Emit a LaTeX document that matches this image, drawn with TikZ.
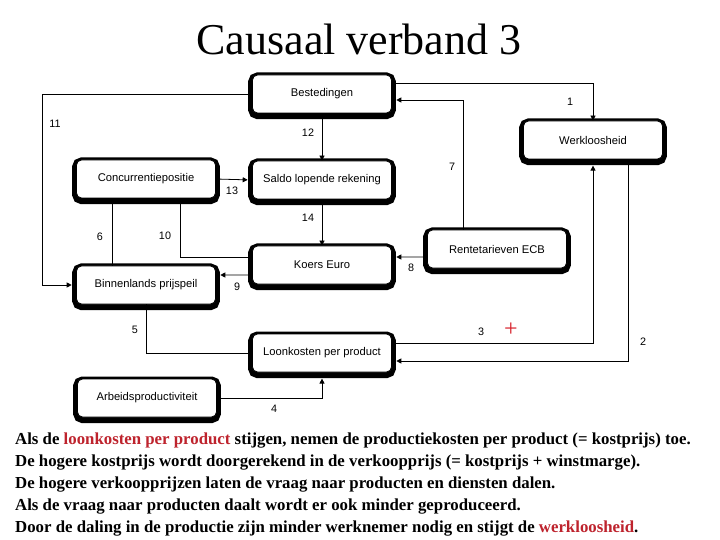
\documentclass[tikz,border=0pt]{standalone}
\usepackage{fontspec}
\setmainfont{Liberation Serif}
\newfontfamily\arialfont{Liberation Sans}
\usepackage{xcolor}
\usepackage{tikz}
\usetikzlibrary{arrows.meta, positioning, shadows}
\definecolor{keyred}{RGB}{190, 35, 45}
\definecolor{plusred}{RGB}{215, 30, 40}

\begin{document}
\begin{tikzpicture}[x=1bp, y=-1bp,
  box/.style={rectangle, rounded corners=5bp, draw=black, line width=0.8bp,
    fill=white, font=\arialfont\fontsize{11.2bp}{13bp}\selectfont,
    minimum width=139bp, minimum height=38bp, inner sep=2bp,
    general shadow={fill=black, draw=black, line width=8.6bp, shadow yshift=-1.8bp}},
  num/.style={font=\arialfont\fontsize{10.8bp}{12bp}\selectfont, inner sep=0pt},
  txt/.style={anchor=base west, inner sep=0pt,
    font=\fontsize{16.8bp}{22bp}\selectfont\bfseries},
  arr/.style={-{Triangle[length=5bp, width=5bp]}, line width=0.8bp},
  lin/.style={line width=0.8bp}
]
\useasboundingbox (0,0) rectangle (720,540);
\fill[white] (0,0) rectangle (720,540);
% Title
\node[anchor=base, inner sep=0pt, font=\fontsize{44bp}{48bp}\selectfont]
  at (359,55) (title) {Causaal verband 3};
% Boxes
\node[box] at (322, 94) (best)   {Bestedingen};
\node[box] at (593,140) (werk)   {Werkloosheid};
\node[box] at (146,179) (conc)   {Concurrentiepositie};
\node[box] at (322,180) (saldo)  {Saldo lopende rekening};
\node[box] at (497,249) (rente)  {Rentetarieven ECB};
\node[box] at (322,265) (koers)  {Koers Euro};
\node[box] at (146,285) (binnen) {Binnenlands prijspeil};
\node[box] at (322,353) (loon)   {Loonkosten per product};
\node[box] at (147,398) (arbeid) {Arbeidsproductiviteit};
% Connectors
\draw[arr] ([yshift=11bp]best.east) -| (werk.north);
\draw[arr, shorten >=4.4bp] ([xshift=35bp]werk.south) |- ([yshift=-8bp]loon.east);
\draw[arr, shorten >=6.2bp] ([yshift=10bp]loon.east) -| (werk.south);
\draw[arr, shorten >=6.2bp] (arbeid.east) -| (loon.south);
\draw[lin] (binnen.south) |- (loon.west);
\draw[lin] ([xshift=-34bp]conc.south) -- ([xshift=-34bp]binnen.north);
\draw[arr, shorten >=4.4bp] ([xshift=-34bp]rente.north) |- ([yshift=-6bp]best.east);
\draw[arr, shorten >=4.4bp] ([yshift=-8bp]rente.west) -- ([yshift=8bp]koers.east);
\draw[arr, shorten >=4.4bp] ([yshift=-10bp]koers.west) -- ([yshift=10bp]binnen.east);
\draw[lin] ([yshift=8bp]koers.west) -| ([xshift=34bp]conc.south);
\draw[arr, shorten >=4.4bp] (best.west) -| ([xshift=-34bp]binnen.west) -- (binnen.west);
\draw[arr] (best.south) -- (saldo.north);
\draw[arr, shorten >=4.4bp] (conc.east) -- (saldo.west);
\draw[arr] (saldo.south) -- (koers.north);
% Numbers
\node[num] at (570,102) (n1)  {1};
\node[num] at (643,342) (n2)  {2};
\node[num] at (481,332) (n3)  {3};
\node[num] at (274,409) (n4)  {4};
\node[num] at (135,330) (n5)  {5};
\node[num] at (100,237) (n6)  {6};
\node[num] at (452,167) (n7)  {7};
\node[num] at (411,268) (n8)  {8};
\node[num] at (237,287) (n9)  {9};
\node[num] at (165,236) (n10) {10};
\node[num] at ( 55,124) (n11) {11};
\node[num] at (308,133) (n12) {12};
\node[num] at (232,191) (n13) {13};
\node[num] at (308,218) (n14) {14};
\node[inner sep=0pt, text=plusred, font=\fontsize{24bp}{24bp}\selectfont]
  at (511,330) (plus) {+};
% Explanation
\node[txt] at (15,444) (t1) {Als de \textcolor{keyred}{loonkosten per product} stijgen, nemen de productiekosten per product (= kostprijs) toe.};
\node[txt] at (15,466) (t2) {De hogere kostprijs wordt doorgerekend in de verkoopprijs (= kostprijs + winstmarge).};
\node[txt] at (15,488) (t3) {De hogere verkoopprijzen laten de vraag naar producten en diensten dalen.};
\node[txt] at (15,510) (t4) {Als de vraag naar producten daalt wordt er ook minder geproduceerd.};
\node[txt] at (15,532) (t5) {Door de daling in de productie zijn minder werknemer nodig en stijgt de \textcolor{keyred}{werkloosheid}.};
\end{tikzpicture}
\end{document}
